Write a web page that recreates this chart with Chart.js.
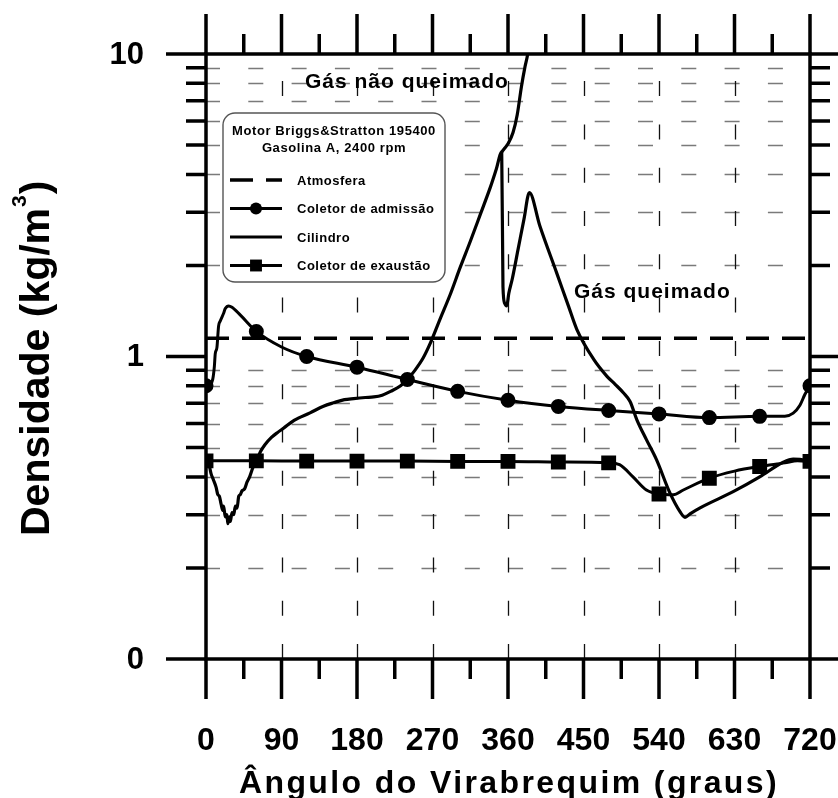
<!DOCTYPE html>
<html>
<head>
<meta charset="utf-8">
<script src="https://cdn.jsdelivr.net/npm/chart.js@4.4.1/dist/chart.umd.min.js"></script>
<style>
  html, body { margin: 0; padding: 0; background: #fff; }
  canvas { display: block; }
</style>
</head>
<body>
<canvas id="chart" width="838" height="798"></canvas>
<script>
// crank angle (graus) vs density (kg/m3)
const atmAngle = [0, 720];
const atmDensity = [1.15, 1.15];

const intakeAngle = [0, 5, 8, 10, 11, 13, 15, 17, 21, 23, 27, 31, 41, 60, 90, 120, 180, 240, 300, 360, 420, 480, 540, 600, 660, 690, 700, 708, 714, 720];
const intakeDensity = [0.80, 0.81, 0.84, 0.93, 1.02, 1.07, 1.26, 1.31, 1.39, 1.44, 1.47, 1.455, 1.37, 1.21, 1.075, 1.00, 0.922, 0.839, 0.767, 0.717, 0.684, 0.663, 0.646, 0.628, 0.634, 0.635, 0.65, 0.69, 0.75, 0.80];

const cylAngle = [0, 3, 6, 9, 12, 14, 16, 18, 20, 21, 23, 25, 26, 28, 29, 31, 33, 35, 37, 39, 41, 43, 46, 49, 52, 56, 60, 65, 70, 78, 85, 92, 105, 124, 140, 152, 165, 176, 190, 200, 210, 220, 232, 240, 249, 259, 267, 279, 291, 303, 315, 327, 339, 346, 352.5, 354, 356, 358.5, 361, 365, 372, 379, 385.5, 398, 418, 432, 442, 462, 478, 488, 497.5, 505.5, 513.5, 525, 537, 553, 565, 571, 577, 589, 629, 660, 688, 700, 708, 720];
const cylDensity = [0.45, 0.445, 0.41, 0.39, 0.37, 0.35, 0.345, 0.325, 0.31, 0.32, 0.295, 0.30, 0.28, 0.295, 0.285, 0.305, 0.30, 0.32, 0.315, 0.345, 0.35, 0.36, 0.365, 0.385, 0.40, 0.43, 0.45, 0.485, 0.51, 0.54, 0.56, 0.578, 0.615, 0.651, 0.685, 0.703, 0.72, 0.726, 0.732, 0.735, 0.745, 0.767, 0.80, 0.84, 0.90, 0.99, 1.10, 1.33, 1.60, 1.97, 2.40, 2.95, 3.63, 4.16, 4.74, 1.70, 1.50, 1.47, 1.62, 1.80, 2.26, 2.84, 3.48, 2.70, 1.89, 1.47, 1.23, 0.98, 0.86, 0.808, 0.759, 0.71, 0.619, 0.531, 0.456, 0.354, 0.307, 0.294, 0.302, 0.316, 0.358, 0.40, 0.447, 0.458, 0.457, 0.45];

// unburned gas branch after ignition
const unburnedAngle = [352.5, 356, 360, 366, 371, 376, 380, 383.5, 388];
const unburnedDensity = [4.74, 4.88, 5.05, 5.5, 6.3, 7.8, 9.0, 10.0, 12.5];

const exhAngle = [0, 60, 120, 180, 240, 300, 360, 420, 480, 493, 509, 525, 540, 557, 569, 600, 630, 660, 690, 705, 720];
const exhDensity = [0.452, 0.452, 0.451, 0.451, 0.451, 0.450, 0.450, 0.448, 0.445, 0.439, 0.40, 0.362, 0.351, 0.349, 0.362, 0.396, 0.418, 0.433, 0.445, 0.452, 0.45];

const xTicks = [0, 90, 180, 270, 360, 450, 540, 630, 720];
const xTickLabels = ['0', '90', '180', '270', '360', '450', '540', '630', '720'];
const yTicks = [0.1, 1, 10];
const yTickLabels = ['0', '1', '10'];

const markerStep = 60;
const FONT = '"Liberation Sans", Arial, sans-serif';

function pts(xs, ys) {
    return xs.map((x, i) => ({ x: x, y: ys[i] }));
}

function markerRadius(r) {
    return ctx => (ctx.raw && ctx.raw.x % markerStep === 0 ? r : 0);
}

const framePlugin = {
    id: 'frame',
    beforeDatasetsDraw(chart) {
        const { ctx, chartArea: a, scales: { x, y } } = chart;
        ctx.save();
        // horizontal minor grid
        ctx.setLineDash([15, 28.3]);
        ctx.lineWidth = 1.5;
        ctx.strokeStyle = '#7a7a7a';
        [0.1, 1].forEach(dec => {
            for (let m = 2; m <= 9; m++) {
                const py = Math.round(y.getPixelForValue(dec * m)) + 0.5;
                ctx.beginPath();
                ctx.moveTo(a.left - 1, py);
                ctx.lineTo(a.right, py);
                ctx.stroke();
            }
        });
        // vertical grid
        ctx.strokeStyle = '#111';
        ctx.lineWidth = 1.3;
        for (let v = 90; v < 720; v += 90) {
            const px = Math.round(x.getPixelForValue(v)) + 0.5;
            ctx.beginPath();
            ctx.moveTo(px, a.bottom);
            ctx.lineTo(px, a.top);
            ctx.stroke();
        }
        ctx.restore();
    },
    afterDatasetsDraw(chart) {
        const { ctx, chartArea: a, scales: { x, y } } = chart;
        ctx.save();
        ctx.strokeStyle = '#000';
        ctx.lineWidth = 3.5;
        ctx.strokeRect(a.left, a.top, a.right - a.left, a.bottom - a.top);

        // x ticks, every 45, major every 90
        ctx.beginPath();
        for (let v = 0; v <= 720; v += 45) {
            const px = x.getPixelForValue(v);
            const len = v % 90 === 0 ? 40 : 20;
            ctx.moveTo(px, a.bottom); ctx.lineTo(px, a.bottom + len);
            ctx.moveTo(px, a.top); ctx.lineTo(px, a.top - len);
        }
        // y ticks
        [0.1, 1, 10].forEach(dec => {
            for (let m = 1; m <= 9; m++) {
                const v = dec * m;
                if (v > 10.0001) break;
                const py = y.getPixelForValue(v);
                const len = m === 1 ? 40 : 20;
                ctx.moveTo(a.left, py); ctx.lineTo(a.left - len, py);
                ctx.moveTo(a.right, py); ctx.lineTo(a.right + len, py);
            }
        });
        ctx.stroke();

        // tick labels
        ctx.fillStyle = '#000';
        ctx.font = 'bold 32px ' + FONT;
        ctx.textAlign = 'center';
        ctx.textBaseline = 'alphabetic';
        xTicks.forEach((v, i) => ctx.fillText(xTickLabels[i], x.getPixelForValue(v), 750));
        ctx.font = 'bold 31px ' + FONT;
        ctx.textAlign = 'right';
        ctx.textBaseline = 'middle';
        yTicks.forEach((v, i) => ctx.fillText(yTickLabels[i], 144, y.getPixelForValue(v) + 1));

        // axis titles
        ctx.textBaseline = 'alphabetic';
        ctx.textAlign = 'center';
        ctx.font = 'bold 32px ' + FONT;
        ctx.letterSpacing = '2.4px';
        ctx.fillText('Ângulo do Virabrequim (graus)', (a.left + a.right) / 2 + 1, 793);
        ctx.letterSpacing = '0px';

        ctx.save();
        ctx.translate(48.5, 536);
        ctx.rotate(-Math.PI / 2);
        ctx.textAlign = 'left';
        ctx.font = 'bold 41px ' + FONT;
        const main = 'Densidade (kg/m';
        ctx.fillText(main, 0, 0);
        let w = ctx.measureText(main).width + 1;
        ctx.font = 'bold 21px ' + FONT;
        ctx.fillText('3', w, -23);
        w += ctx.measureText('3').width + 1;
        ctx.font = 'bold 41px ' + FONT;
        ctx.fillText(')', w, 0);
        ctx.restore();

        // annotations
        ctx.textAlign = 'left';
        ctx.font = 'bold 21px ' + FONT;
        ctx.letterSpacing = '1px';
        ctx.fillText('Gás não queimado', 305, 88);
        ctx.fillText('Gás queimado', 574, 298);
        ctx.letterSpacing = '0px';

        drawLegend(chart);
        ctx.restore();
    }
};

function drawLegend(chart) {
    const ctx = chart.ctx;
    ctx.save();
    ctx.beginPath();
    ctx.roundRect(223, 113, 222, 169, 12);
    ctx.fillStyle = '#fff';
    ctx.fill();
    ctx.lineWidth = 1.4;
    ctx.strokeStyle = '#555';
    ctx.stroke();

    ctx.fillStyle = '#000';
    ctx.font = 'bold 13px ' + FONT;
    ctx.letterSpacing = '0.6px';
    ctx.textAlign = 'center';
    ctx.textBaseline = 'alphabetic';
    ctx.fillText('Motor Briggs&Stratton 195400', 334, 135);
    ctx.fillText('Gasolina A, 2400 rpm', 334, 152);

    ctx.textAlign = 'left';
    ctx.textBaseline = 'middle';
    ctx.letterSpacing = '0.5px';
    const rows = chart.data.datasets.filter(d => !d.noLegend);
    rows.forEach((ds, i) => {
        const cy = 180 + i * 28.5;
        ctx.save();
        ctx.strokeStyle = ds.borderColor;
        ctx.lineWidth = ds.borderWidth;
        ctx.setLineDash(ds.borderDash || []);
        ctx.beginPath();
        ctx.moveTo(230, cy);
        ctx.lineTo(282, cy);
        ctx.stroke();
        ctx.setLineDash([]);
        ctx.fillStyle = '#000';
        if (ds.markerSize) {
            if (ds.pointStyle === 'rect') {
                const s = ds.markerSize * Math.SQRT1_2;
                ctx.fillRect(256 - s, cy - s, 2 * s, 2 * s);
            } else {
                ctx.beginPath();
                ctx.arc(256, cy, ds.markerSize, 0, Math.PI * 2);
                ctx.fill();
            }
        }
        ctx.restore();
        ctx.fillText(ds.label, 297, cy + 1);
    });
    ctx.restore();
}

new Chart(document.getElementById('chart'), {
    type: 'line',
    data: {
        datasets: [
            {
                label: 'Atmosfera',
                data: pts(atmAngle, atmDensity),
                borderColor: '#000',
                borderWidth: 3.5,
                borderDash: [23, 13],
                pointRadius: 0,
            },
            {
                label: 'Coletor de admissão',
                data: pts(intakeAngle, intakeDensity),
                borderColor: '#000',
                borderWidth: 3,
                pointStyle: 'circle',
                markerSize: 6,
                pointRadius: markerRadius(6),
                pointBackgroundColor: '#000',
                pointBorderColor: '#000',
            },
            {
                label: 'Cilindro',
                data: pts(cylAngle, cylDensity),
                borderColor: '#000',
                borderWidth: 3.2,
                pointRadius: 0,
            },
            {
                label: 'Coletor de exaustão',
                data: pts(exhAngle, exhDensity),
                borderColor: '#000',
                borderWidth: 3,
                pointStyle: 'rect',
                markerSize: 8.4,
                pointRadius: markerRadius(8.4),
                pointBackgroundColor: '#000',
                pointBorderColor: '#000',
            },
            {
                label: 'Cilindro (gás não queimado)',
                noLegend: true,
                data: pts(unburnedAngle, unburnedDensity),
                borderColor: '#000',
                borderWidth: 3.2,
                pointRadius: 0,
            },
        ],
    },
    options: {
        responsive: false,
        animation: false,
        layout: { padding: { left: 206, right: 28, top: 54, bottom: 139 } },
        elements: { line: { cubicInterpolationMode: 'monotone' } },
        scales: {
            x: { type: 'linear', min: 0, max: 720, display: false },
            y: { type: 'logarithmic', min: 0.1, max: 10, display: false },
        },
        plugins: {
            legend: { display: false },
            tooltip: { enabled: false },
        },
    },
    plugins: [framePlugin],
});
</script>
</body>
</html>
